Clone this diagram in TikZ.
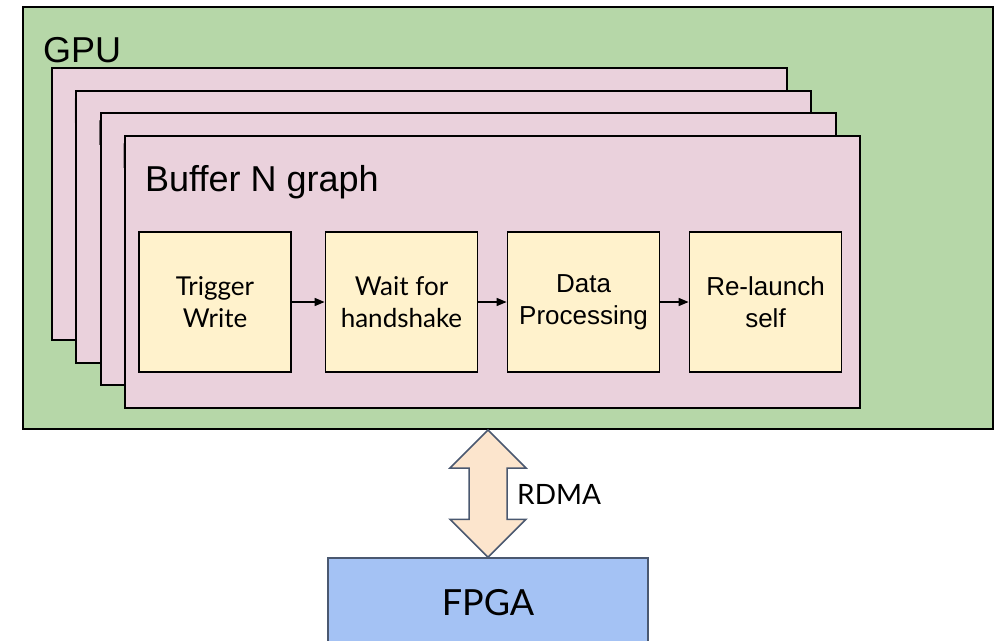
\documentclass[tikz,border=0pt]{standalone}
\usepackage{fontspec}
\setmainfont{Liberation Sans}
\newfontfamily\latofont{Lato}
\usetikzlibrary{arrows.meta,calc}
\definecolor{gpugreen}{HTML}{B6D7A8}
\definecolor{framepink}{HTML}{EAD1DC}
\definecolor{boxyellow}{HTML}{FFF2CC}
\definecolor{arrowpeach}{HTML}{FCE5CD}
\definecolor{fpgablue}{HTML}{A4C2F4}
\definecolor{slateedge}{HTML}{4A5870}
\begin{document}
\begin{tikzpicture}[x=1pt,y=-1pt,
  gpubox/.style={draw=black,line width=2pt,fill=gpugreen,minimum width=970pt,minimum height=422pt,inner sep=0pt},
  framebox/.style={draw=black,line width=2pt,fill=framepink,minimum width=735pt,minimum height=272pt,inner sep=0pt},
  stepbox/.style={draw=black,line width=1.8pt,fill=boxyellow,minimum width=152pt,minimum height=140pt,inner sep=0pt,align=center},
  arialtext/.style={font=\fontsize{26}{32}\selectfont},
  latotext/.style={font=\latofont\fontsize{26}{32}\selectfont},
  bigtext/.style={font=\fontsize{36}{43}\selectfont,inner sep=0pt,anchor=base west},
  flow/.style={draw=black,line width=1.5pt,-{Triangle[length=10pt,width=8pt]}},
  fpgabox/.style={draw=slateedge,line width=1.5pt,fill=fpgablue,minimum width=320pt,minimum height=90pt,inner sep=0pt,font=\latofont\fontsize{36}{43}\selectfont},
  dblarrow/.style={draw=slateedge,line width=1.5pt,fill=arrowpeach,line join=miter}
]
\clip (0,0) rectangle (998,640);
\fill[white] (0,0) rectangle (998,640);

\node[gpubox] (gpu) at (508,218) {};
\node[bigtext] (gpulabel) at (43,62) {GPU};

\node[framebox] (f1) at (419.5,204) {};
\node[bigtext] (b1) at (72,123) {B};
\node[framebox] (f2) at (443.8,226.7) {};
\node[bigtext] (b2) at (96.3,145.7) {B};
\node[framebox] (f3) at (468.2,249.3) {};
\node[bigtext] (b3) at (120.7,168.3) {B};
\node[framebox] (f4) at (492.5,272) {};
\node[bigtext] (f4label) at (145,191) {Buffer N graph};

\node[stepbox,latotext] (s1) at (215,302) {Trigger\\Write};
\node[stepbox,latotext] (s2) at (401.5,302) {Wait for\\handshake};
\node[stepbox,arialtext] (s3) at (583.5,302) {Data\\Processing};
\node[stepbox,arialtext] (s4) at (765.5,302) {Re-launch\\self};

\draw[flow] (s1.east) -- (s2.west);
\draw[flow] (s2.east) -- (s3.west);
\draw[flow] (s3.east) -- (s4.west);

\node[fpgabox] (fpga) at (488,603) {FPGA};

\coordinate (ttip) at (gpu.south -| fpga.north);
\draw[dblarrow] (ttip) -- ++(38,38) -- ++(-19,0) -- ($(fpga.north)+(19,-38)$) -- ++(19,0)
  -- (fpga.north) -- ++(-38,-38) -- ++(19,0) -- ($(ttip)+(-19,38)$) -- ++(-19,0) -- cycle;

\node[font=\latofont\fontsize{28}{34}\selectfont,inner sep=0pt,anchor=west] (rdma) at (517,494) {RDMA};
\end{tikzpicture}
\end{document}
